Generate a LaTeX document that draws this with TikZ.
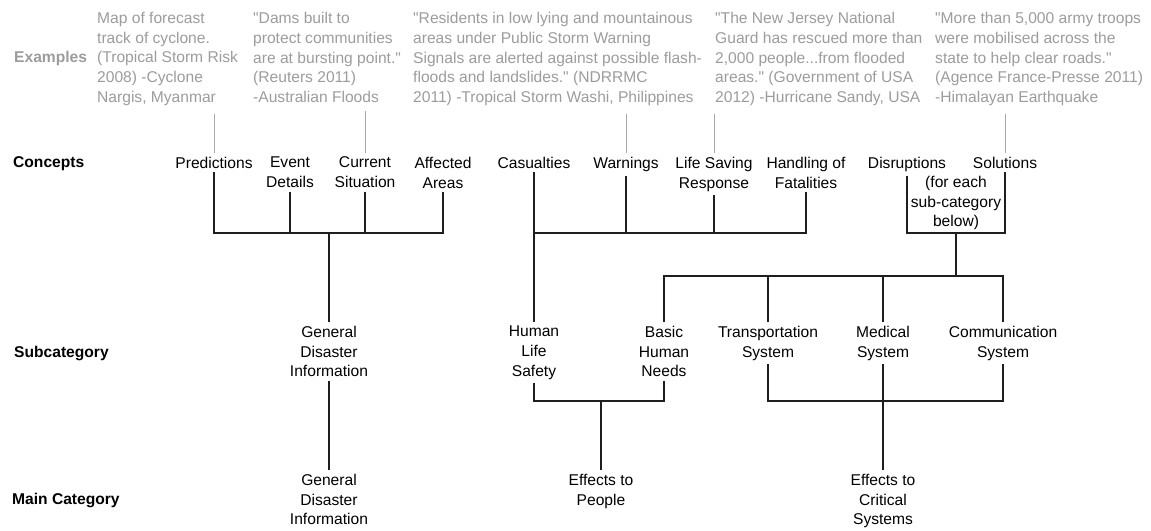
\documentclass[tikz,border=0pt]{standalone}
\usepackage{fontspec}
\setmainfont{Liberation Sans}[Ligatures=TeXOff]
\definecolor{ExampleGray}{HTML}{9C9C9C}
\definecolor{LineGray}{HTML}{A8A8A8}
\definecolor{TreeBlack}{HTML}{1E1E1E}
\usetikzlibrary{calc}

\begin{document}
\begin{tikzpicture}[x=1pt,y=-1pt,
    txt/.style={font=\fontsize{15.6}{19.75}\selectfont,inner sep=0pt},
    rowlabel/.style={txt,font=\fontsize{15.6}{19.75}\selectfont\bfseries,anchor=west},
    example/.style={txt,ExampleGray,align=left,anchor=north west},
    item/.style={txt,align=center,anchor=north,outer sep=4pt},
    tree/.style={line width=1.5pt,TreeBlack},
    exline/.style={line width=1pt,LineGray,shorten <=8pt}]
      \useasboundingbox (0,0) rectangle (1151,530);
      \node[rowlabel,ExampleGray] (rowex) at (14,58) {Examples};
      \node[rowlabel] (rowcon) at (13,164) {Concepts};
      \node[rowlabel] (rowsub) at (14,353) {Subcategory};
      \node[rowlabel] (rowmain) at (12,500) {Main Category};

      \node[example] (expred) at (97,12) {Map of forecast\\track of cyclone.\\(Tropical Storm Risk\\2008) -Cyclone\\Nargis, Myanmar};
      \node[example] (excurrent) at (253,12) {"Dams built to\\protect communities\\are at bursting point."\\(Reuters 2011)\\-Australian Floods};
      \node[example] (exwarn) at (413,12) {"Residents in low lying and mountainous\\areas under Public Storm Warning\\Signals are alerted against possible flash-\\floods and landslides." (NDRRMC\\2011) -Tropical Storm Washi, Philippines};
      \node[example] (exlife) at (715,12) {"The New Jersey National\\Guard has rescued more than\\2,000 people...from flooded\\areas." (Government of USA\\2012) -Hurricane Sandy, USA};
      \node[example] (exsolution) at (935,12) {"More than 5,000 army troops\\were mobilised across the\\state to help clear roads."\\(Agence France-Presse 2011)\\-Himalayan Earthquake};

      \node[item] (pred) at (214,153) {Predictions};
      \node[item] (event) at (290,153) {Event\\Details};
      \node[item] (current) at (365,153) {Current\\Situation};
      \node[item] (affected) at (443,153) {Affected\\Areas};
      \node[item] (casualty) at (534,153) {Casualties};
      \node[item] (warn) at (626,153) {Warnings};
      \node[item] (lifesave) at (714,153) {Life Saving\\Response};
      \node[item] (fatal) at (806,153) {Handling of\\Fatalities};
      \node[item] (disrupt) at (907,153) {Disruptions};
      \node[item] (solution) at (1005,153) {Solutions};
      \node[item] (foreach) at (956,172) {(for each\\sub-category\\below)};

      \node[item] (subgen) at (329,322) {General\\Disaster\\Information};
      \node[item] (subsafety) at (534,322) {Human\\Life\\Safety};
      \node[item] (subneeds) at (664,322) {Basic\\Human\\Needs};
      \node[item] (subtrans) at (768,322) {Transportation\\System};
      \node[item] (submed) at (883,322) {Medical\\System};
      \node[item] (subcomm) at (1003,322) {Communication\\System};

      \node[item] (maingen) at (329,470) {General\\Disaster\\Information};
      \node[item] (mainpeople) at (601,470) {Effects to\\People};
      \node[item] (maincrit) at (883,470) {Effects to\\Critical\\Systems};

      \draw[exline] (pred.north |- expred.south) -- (pred.north);
      \draw[exline] (current.north |- excurrent.south) -- (current.north);
      \draw[exline] (warn.north |- exwarn.south) -- (warn.north);
      \draw[exline] (lifesave.north |- exlife.south) -- (lifesave.north);
      \draw[exline] (solution.north |- exsolution.south) -- (solution.north);

      \coordinate (bargen) at (329,233);
      \coordinate (barcare) at (670,233);
      \coordinate (barsys) at (956,233);
      \coordinate (barsub) at (956,276);
      \coordinate (barpeople) at (601,401);
      \coordinate (barcrit) at (883,401);

      \draw[tree] (pred.south) |- (bargen) -| (affected.south);
      \draw[tree] (event.south) -- (event.south |- bargen);
      \draw[tree] (current.south) -- (current.south |- bargen);
      \draw[tree] (bargen) -- (subgen.north);
      \draw[tree] (subgen.south) -- (maingen.north);

      \draw[tree] (casualty.south) -- (subsafety.north);
      \draw[tree] (subsafety.north |- barcare) -| (fatal.south);
      \draw[tree] (warn.south) -- (warn.south |- barcare);
      \draw[tree] (lifesave.south) -- (lifesave.south |- barcare);

      \draw[tree] (disrupt.south) |- (barsys) -| (solution.south);
      \draw[tree] (barsys) -- (barsub);
      \draw[tree] (subneeds.north) |- (barsub) -| (subcomm.north);
      \draw[tree] (subtrans.north) -- (subtrans.north |- barsub);
      \draw[tree] (submed.north) -- (submed.north |- barsub);

      \draw[tree] (subsafety.south) |- (barpeople) -| (subneeds.south);
      \draw[tree] (barpeople) -- (mainpeople.north);
      \draw[tree] (subtrans.south) |- (barcrit) -| (subcomm.south);
      \draw[tree] (submed.south) -- (maincrit.north);
    \end{tikzpicture}
\end{document}
